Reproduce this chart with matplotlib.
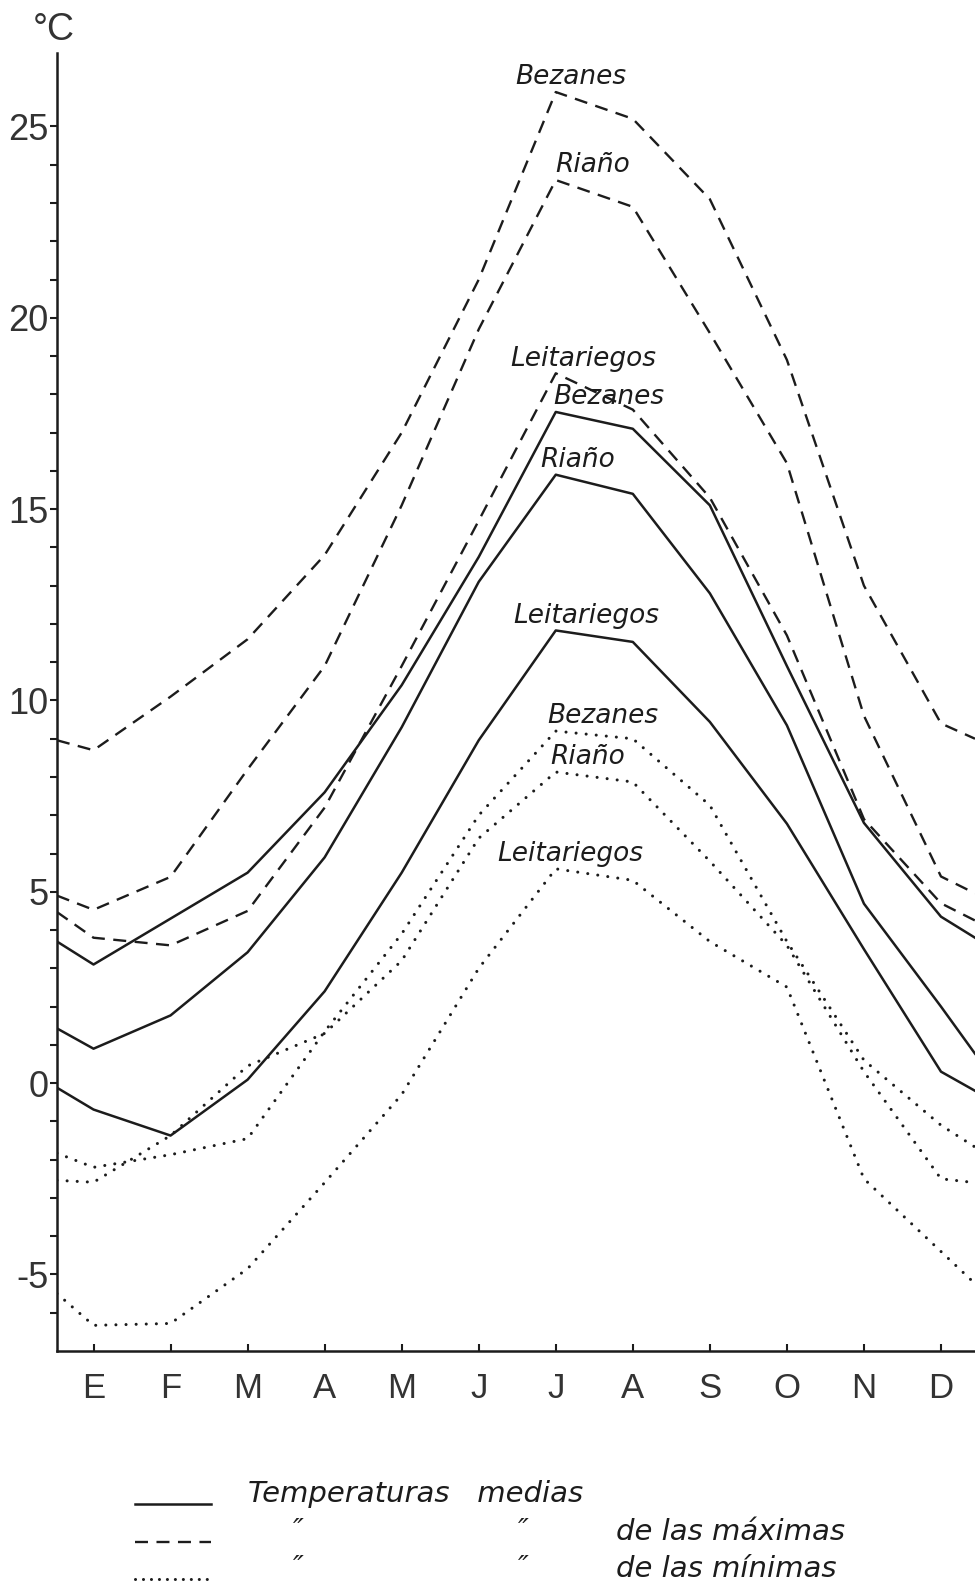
import matplotlib
matplotlib.use('Agg')
import matplotlib.pyplot as plt
from matplotlib.lines import Line2D
import numpy as np

# meses (E = enero ... D = diciembre)
meses = ['E', 'F', 'M', 'A', 'M', 'J', 'J', 'A', 'S', 'O', 'N', 'D']

# cada serie: valor en el borde izquierdo, los 12 meses, valor en el borde derecho
bezanes_max = [8.96, 8.7, 10.1, 11.6, 13.8, 17.0, 21.0, 25.9, 25.2, 23.1, 18.9, 13.0, 9.4, 9.0]
riano_max = [4.9, 4.53, 5.39, 8.2, 10.9, 15.1, 19.7, 23.6, 22.9, 19.6, 16.2, 9.6, 5.4, 4.96]
leit_max = [4.47, 3.8, 3.6, 4.5, 7.2, 10.9, 14.7, 18.55, 17.6, 15.3, 11.7, 6.9, 4.7, 4.25]

bezanes_med = [3.7, 3.1, 4.3, 5.5, 7.6, 10.4, 13.75, 17.54, 17.1, 15.1, 10.9, 6.8, 4.35, 3.8]
riano_med = [1.43, 0.9, 1.77, 3.42, 5.9, 9.3, 13.1, 15.9, 15.4, 12.8, 9.35, 4.69, 2.0, 0.77]
leit_med = [-0.12, -0.69, -1.37, 0.09, 2.4, 5.5, 8.96, 11.83, 11.53, 9.44, 6.78, 3.5, 0.3, -0.2]

bezanes_min = [-1.83, -2.2, -1.87, -1.45, 1.35, 3.9, 7.0, 9.2, 9.0, 7.26, 3.7, 0.6, -1.1, -1.67]
riano_min = [-2.54, -2.59, -1.37, 0.45, 1.3, 3.2, 6.4, 8.13, 7.87, 5.8, 3.6, 0.3, -2.5, -2.6]
leit_min = [-5.5, -6.33, -6.28, -4.85, -2.6, -0.3, 3.0, 5.6, 5.3, 3.7, 2.51, -2.5, -4.4, -5.24]

W, H = 975, 1589
fig = plt.figure(figsize=(W / 100, H / 100), dpi=100)
ax = fig.add_axes([57 / W, 1 - 1351 / H, 1 - 57 / W, (1351 - 53) / H])

XMIN, XMAX = 1 - 36.5 / 77, 12 + 34 / 77
ax.set_xlim(XMIN, XMAX)
ax.set_ylim(-7, 26.92)
x = np.concatenate([[XMIN], np.arange(1, 13), [XMAX]])

ink = '#1c1c1c'
solid = dict(color=ink, lw=1.8, ls='-')
dashed = dict(color=ink, lw=1.7, ls=(0, (5.5, 3.6)))
dotted = dict(color=ink, lw=2.2, ls=(0, (0.01, 3.3)), dash_capstyle='round')

for serie, st in [(bezanes_max, dashed), (riano_max, dashed), (leit_max, dashed),
                  (bezanes_med, solid), (riano_med, solid), (leit_med, solid),
                  (bezanes_min, dotted), (riano_min, dotted), (leit_min, dotted)]:
    ax.plot(x, serie, **st)

# rotulos junto al maximo de julio
lab = dict(style='italic', fontsize=19, color=ink, ha='left', va='baseline')
for serie, nombre, xl in [(bezanes_max, 'Bezanes', 6.48), (riano_max, 'Riaño', 6.99),
                          (leit_max, 'Leitariegos', 6.41), (bezanes_med, 'Bezanes', 6.97),
                          (riano_med, 'Riaño', 6.80), (leit_med, 'Leitariegos', 6.45),
                          (bezanes_min, 'Bezanes', 6.89), (riano_min, 'Riaño', 6.93),
                          (leit_min, 'Leitariegos', 6.24)]:
    ax.text(xl, serie[7] + 0.2, nombre, **lab)

num = ['Liberation Sans', 'DejaVu Sans']
for s in ['top', 'right']:
    ax.spines[s].set_visible(False)
for s in ['left', 'bottom']:
    ax.spines[s].set_linewidth(1.8)
    ax.spines[s].set_color(ink)

ax.set_yticks(np.arange(-5, 26, 5))
ax.set_yticklabels([str(v) for v in range(-5, 26, 5)], family=num, fontsize=26, color='#333')
ax.set_yticks([v for v in range(-6, 25) if v % 5], minor=True)
ax.tick_params(axis='y', which='both', direction='out', length=5, width=1.5, color=ink, pad=1)

ax.set_xticks(np.arange(1, 13))
ax.set_xticklabels(meses, family=num, fontsize=25, color='#333')
ax.tick_params(axis='x', direction='in', length=5, width=1.5, color=ink, pad=15)

fig.text(54 / W, 1 - 30 / H, '°C', family=num, fontsize=27, color='#333',
         ha='center', va='center')

# leyenda
def fx(px):
    return px / W


def fy(py):
    return 1 - py / H


leg = dict(style='italic', fontsize=21, color=ink, va='center', ha='left')
dotted_leg = dict(dotted, ls=(0, (0.01, 2.6)))
for py, st, texto in [(1504, solid, None), (1542, dashed, 'de las máximas'),
                      (1579, dotted_leg, 'de las mínimas')]:
    fig.add_artist(Line2D([fx(135), fx(211)], [fy(py), fy(py)], transform=fig.transFigure, **st))
    if texto:
        fig.text(fx(616), fy(py - 10), texto, **leg)
fig.text(fx(248), fy(1494), 'Temperaturas   medias', **leg)
for py in [1531, 1568]:
    fig.text(fx(298), fy(py), '″', **dict(leg, ha='center'))
    fig.text(fx(523), fy(py), '″', **dict(leg, ha='center'))

fig.savefig('out.png', dpi=100, facecolor='white')
